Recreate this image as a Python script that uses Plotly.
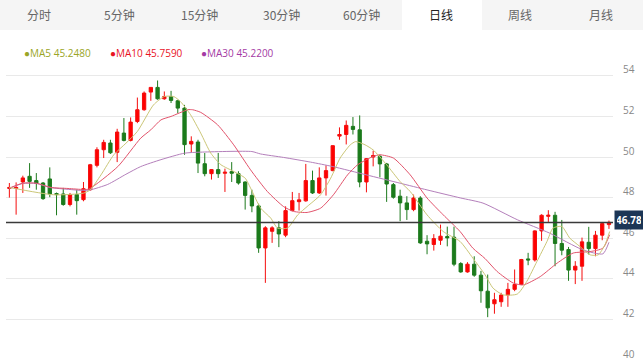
import plotly.graph_objects as go

# ---------------- data ----------------
opens = [48.45, 48.45, 48.77, 49.05, 48.84, 48.72, 48.92, 48.20, 48.18, 47.66,
         48.15, 47.90, 48.39, 49.59, 50.36, 50.69, 50.23, 51.18, 50.82, 51.75,
         52.33, 53.20, 53.43, 52.87, 52.98, 52.77, 52.41, 50.64, 50.74, 49.67,
         49.18, 49.38, 49.20, 49.28, 49.18, 48.77, 48.11, 47.59, 45.52, 46.34,
         46.51, 46.15, 47.36, 47.80, 47.84, 48.84, 48.23, 48.97, 49.33, 51.03,
         51.11, 51.51, 51.34, 48.77, 50.00, 50.03, 49.66, 48.64, 48.07, 47.74,
         47.41, 47.98, 45.85, 45.69, 45.90, 46.08, 46.05, 44.75, 44.34, 44.72,
         44.18, 43.39, 42.77, 42.87, 43.20, 43.48, 43.72, 44.98, 44.93, 46.36,
         47.08, 47.13, 45.74, 45.44, 44.43, 44.62, 45.80, 45.49, 46.15, 46.67]
highs = [48.72, 48.75, 49.08, 49.70, 49.21, 48.77, 49.49, 48.25, 48.48, 48.23,
         48.39, 48.77, 49.66, 50.48, 50.85, 50.85, 51.39, 51.92, 51.95, 52.93,
         53.23, 53.43, 53.77, 53.23, 53.26, 52.82, 52.57, 51.02, 50.85, 50.20,
         49.41, 50.20, 49.43, 49.75, 49.30, 48.80, 48.39, 47.70, 46.59, 46.59,
         46.84, 47.57, 48.28, 48.23, 49.66, 49.33, 49.49, 49.59, 50.57, 51.46,
         51.80, 51.97, 52.05, 49.95, 50.31, 50.11, 49.71, 48.72, 48.39, 48.07,
         48.15, 48.07, 46.15, 46.20, 46.67, 46.57, 46.57, 44.82, 44.82, 45.11,
         44.39, 44.21, 43.31, 43.31, 43.80, 44.46, 44.98, 45.28, 46.39, 47.18,
         47.38, 47.30, 46.90, 45.57, 44.87, 46.03, 46.56, 46.36, 46.80, 46.87]
lows = [48.00, 47.16, 48.23, 48.48, 48.39, 47.89, 48.02, 47.13, 47.60, 47.57,
        47.16, 47.82, 48.34, 49.49, 49.95, 50.15, 49.75, 50.77, 50.77, 51.67,
        52.28, 52.77, 52.82, 52.82, 52.66, 52.16, 50.11, 50.20, 49.21, 49.05,
        48.89, 48.97, 48.28, 48.77, 48.64, 47.41, 47.28, 45.28, 43.80, 45.77,
        45.56, 46.05, 47.33, 47.36, 47.80, 48.18, 48.18, 48.10, 49.30, 50.85,
        50.62, 51.11, 48.51, 48.26, 49.54, 49.00, 47.79, 47.95, 46.84, 46.90,
        47.33, 45.72, 45.21, 45.39, 45.67, 45.60, 44.62, 44.30, 44.30, 44.10,
        42.82, 42.11, 42.28, 42.62, 42.62, 43.39, 43.69, 44.67, 44.85, 45.87,
        46.80, 44.62, 45.16, 43.90, 43.74, 43.90, 45.20, 45.11, 45.90, 46.46]
closes = [48.50, 48.50, 48.97, 48.80, 48.70, 47.95, 48.18, 48.15, 47.66, 48.15,
          47.85, 48.44, 49.62, 50.36, 50.72, 50.21, 51.23, 50.82, 51.72, 52.33,
          53.15, 53.43, 52.87, 52.98, 52.79, 52.41, 50.61, 50.77, 49.70, 49.18,
          49.38, 49.18, 49.25, 49.20, 48.72, 48.11, 47.59, 45.52, 46.51, 46.51,
          46.21, 47.36, 47.85, 47.89, 48.84, 48.23, 48.97, 49.33, 50.56, 51.11,
          51.56, 51.36, 48.77, 49.92, 50.07, 49.66, 48.67, 48.02, 47.74, 47.41,
          47.98, 45.77, 45.72, 45.98, 46.10, 46.02, 44.72, 44.34, 44.72, 44.18,
          43.41, 42.57, 42.97, 43.20, 43.48, 43.72, 44.95, 44.93, 46.36, 47.13,
          47.13, 45.74, 45.41, 44.43, 44.62, 45.82, 45.49, 46.15, 46.72, 46.78]

# moving-average lines (candle position, value)
ma5_pos = [0, 6.6, 11, 12, 13.6, 15.5, 17.3, 19, 21.4, 23, 24.4, 25.4, 26.9, 28.4,
           29.9, 31.4, 33.3, 35, 35.8, 37.3, 38.8, 39.8, 41.3, 42.8, 44.2, 46.2,
           47.7, 49.1, 50.6, 51.4, 52.8, 54, 56, 58, 59.5, 62, 64.4, 66.9, 68.8,
           70.6, 71.8, 73.3, 75.4, 76.8, 78.3, 79.8, 80.7, 82, 83.2, 84.7, 86.2,
           87.4, 88.4, 89.1]
ma5_val = [48.50, 48.14, 48.22, 48.38, 49.12, 50.11, 50.68, 51.26, 52.57, 52.98,
           52.98, 52.73, 52.08, 51.18, 50.19, 49.62, 49.29, 48.96, 48.47, 47.48,
           46.99, 46.50, 46.50, 47.15, 47.56, 48.14, 48.96, 49.95, 50.60, 50.76,
           50.60, 50.35, 49.62, 48.79, 48.30, 47.15, 46.33, 45.84, 45.02, 44.20,
           43.54, 43.21, 43.25, 43.87, 44.85, 45.84, 46.50, 46.58, 46.00, 45.59,
           45.18, 45.18, 45.67, 46.33]
ma10_pos = [0, 2, 4, 6.2, 8.7, 11, 11.8, 16.1, 19.5, 21, 22.5, 24, 26.5, 27.2, 28.4,
            30.9, 33.3, 35.8, 38.3, 40.7, 42.2, 44.2, 46.2, 48.1, 50.2, 51.7, 54,
            55, 57, 59.5, 62, 64.4, 66.9, 68.8, 70.6, 72.4, 74.8, 76.3, 78.8, 81.3,
            83.7, 86.2, 88.1, 89.1]
ma10_val = [48.47, 48.71, 48.71, 48.50, 48.45, 48.40, 48.42, 49.53, 50.93, 51.34,
            51.83, 52.00, 52.33, 52.33, 52.20, 51.59, 50.60, 49.37, 48.30, 47.56,
            47.32, 47.27, 47.48, 48.14, 49.12, 49.62, 50.03, 50.11, 49.95, 49.12,
            47.98, 47.15, 46.33, 45.51, 45.00, 44.36, 43.79, 43.70, 44.11, 44.77,
            45.27, 45.34, 45.51, 46.17]
ma30_pos = [0, 2, 4, 6, 9, 11, 12, 14.6, 17.3, 19.5, 22.5, 26, 28.4, 36, 37.3, 40.7,
            44.7, 48, 53, 58, 62, 67, 70.3, 75.4, 80.2, 85.1, 88.1, 89]
ma30_val = [48.45, 48.70, 48.70, 48.50, 48.40, 48.35, 48.38, 48.65, 49.15, 49.53,
            49.87, 50.19, 50.24, 50.27, 50.15, 49.98, 49.75, 49.53, 49.12, 48.71,
            48.38, 47.98, 47.73, 46.91, 46.25, 45.43, 45.23, 45.80]

last_price = 46.78
legend_labels = ["MA5 45.2480", "MA10 45.7590", "MA30 45.2200"]
legend_colors = ["#9aa526", "#e8131f", "#a43aa4"]
tabs = ["分时", "5分钟", "15分钟", "30分钟", "60分钟", "日线", "周线", "月线"]
active_tab = "日线"
y_ticks = [40, 42, 44, 46, 48, 50, 52, 54]

# ---------------- figure ----------------
W, H = 643, 361
PL, PR, PT, PB = 6, 613, 60, 360


def px_x(p):
    return (p - PL) / (PR - PL)


def px_y(q):
    return (PB - q) / (PB - PT)


idx = list(range(len(closes)))
fig = go.Figure()

fig.add_trace(go.Candlestick(
    x=idx, open=opens, high=highs, low=lows, close=closes,
    increasing=dict(line=dict(color="#f50d0d", width=1), fillcolor="#ff0000"),
    decreasing=dict(line=dict(color="#1d7a1d", width=1), fillcolor="#1b7b1b"),
    whiskerwidth=0, showlegend=False, hoverinfo="skip"))

fig.add_trace(go.Scatter(x=ma30_pos, y=ma30_val, mode="lines", line=dict(color="#b47fbb", width=1, shape="spline", smoothing=0.6), showlegend=False, hoverinfo="skip"))
fig.add_trace(go.Scatter(x=ma10_pos, y=ma10_val, mode="lines", line=dict(color="#e2536b", width=1, shape="spline", smoothing=0.6), showlegend=False, hoverinfo="skip"))
fig.add_trace(go.Scatter(x=ma5_pos, y=ma5_val, mode="lines", line=dict(color="#cbc677", width=1, shape="spline", smoothing=0.6), showlegend=False, hoverinfo="skip"))

shapes = []
# tab bar
shapes.append(dict(type="rect", xref="paper", yref="paper", x0=px_x(0), x1=px_x(W), y0=px_y(30), y1=px_y(0),
                   fillcolor="#f5f5f5", line=dict(width=0), layer="below"))
shapes.append(dict(type="rect", xref="paper", yref="paper", x0=px_x(402), x1=px_x(482), y0=px_y(30), y1=px_y(0),
                   fillcolor="#ffffff", line=dict(width=0), layer="below"))
# last price line
shapes.append(dict(type="line", xref="paper", yref="y", x0=0, x1=1, y0=last_price, y1=last_price,
                   line=dict(color="#3a3a3a", width=1.5)))

annotations = []
tab_centers = [39, 119, 200, 281, 361, 441, 520, 601]
for t, cx in zip(tabs, tab_centers):
    annotations.append(dict(text=t, xref="paper", yref="paper", x=px_x(cx), y=px_y(14),
                            showarrow=False, xanchor="center", yanchor="middle",
                            font=dict(family="Noto Sans CJK SC", size=12,
                                      color="#222222" if t == active_tab else "#666666")))
leg_x = [22, 108, 199]
for lab, col, lx in zip(legend_labels, legend_colors, leg_x):
    annotations.append(dict(text="●" + lab, xref="paper", yref="paper", x=px_x(lx), y=px_y(53),
                            showarrow=False, xanchor="left", yanchor="middle",
                            font=dict(family="Open Sans", size=10, color=col)))
annotations.append(dict(text="<b>%.2f</b>" % last_price, xref="paper", yref="y", x=1, y=last_price,
                        xanchor="left", yanchor="middle", showarrow=False, xshift=1, yshift=2,
                        bgcolor="#1c3656", borderpad=2, width=24,
                        font=dict(family="Open Sans", size=10, color="#ffffff")))

fig.update_layout(
    width=W, height=H, margin=dict(l=PL, r=W - PR, t=PT, b=H - PB),
    paper_bgcolor="#ffffff", plot_bgcolor="#ffffff",
    shapes=shapes, annotations=annotations, showlegend=False,
    xaxis=dict(range=[-0.5, 89.6], showgrid=False, zeroline=False, showticklabels=False,
               rangeslider=dict(visible=False), fixedrange=True),
    yaxis=dict(range=[40, 54.78], side="right", tickvals=y_ticks, showgrid=True, gridcolor="#e9e9e9",
               gridwidth=1, zeroline=False, ticks="", ticklabelstandoff=9, ticklabelshift=-6,
               tickfont=dict(family="Open Sans", size=10, color="#888888"), fixedrange=True),
)

fig.write_html("out.html", config={"displayModeBar": False},
               post_script="document.body.style.margin='0';document.body.style.overflow='hidden';")
